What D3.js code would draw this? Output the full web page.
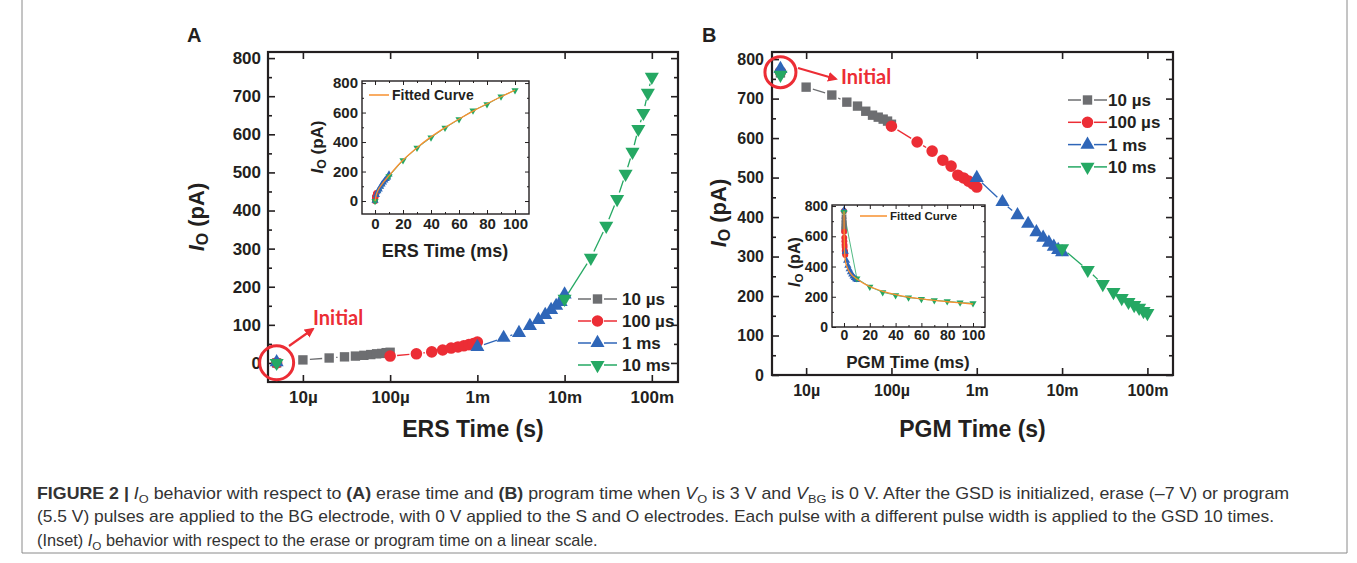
<!DOCTYPE html>
<html>
<head>
<meta charset="utf-8">
<script src="https://cdn.jsdelivr.net/npm/d3@7"></script>
<style>
  body { margin: 0; background: #fff; }
  text { font-family: "Liberation Sans", Arial, Helvetica, sans-serif; fill: #231f20; }
</style>
</head>
<body>
<svg id="fig" width="1357" height="563"></svg>
<script>
// pulse widths (s), one array per series
var t10us  = [1e-5, 2e-5, 3e-5, 4e-5, 5e-5, 6e-5, 7e-5, 8e-5, 9e-5, 1e-4];
var t100us = [1e-4, 2e-4, 3e-4, 4e-4, 5e-4, 6e-4, 7e-4, 8e-4, 9e-4, 1e-3];
var t1ms   = [1e-3, 2e-3, 3e-3, 4e-3, 5e-3, 6e-3, 7e-3, 8e-3, 9e-3, 1e-2];
var t10ms  = [1e-2, 2e-2, 3e-2, 4e-2, 5e-2, 6e-2, 7e-2, 8e-2, 9e-2, 1e-1];
var tInitial = 5e-6;
var seriesNames = ["10 \u00b5s", "100 \u00b5s", "1 ms", "10 ms"];

// (A) erase, I_O in pA
var ers10us  = [8, 13, 16, 18, 20, 22, 24, 25, 27, 28];
var ers100us = [18, 24, 29, 34, 39, 42, 45, 48, 51, 55];
var ers1ms   = [42, 66, 79, 97, 113, 126, 139, 150, 160, 180];
var ers10ms  = [168, 276, 360, 430, 496, 554, 614, 656, 709, 751];
var ersInitial = [0, 0, 2, 0];

// (B) program, I_O in pA
var pgm10us  = [729, 709, 691, 681, 668, 658, 653, 648, 643, 635];
var pgm100us = [630, 590, 567, 544, 529, 506, 499, 491, 484, 476];
var pgm1ms   = [499, 438, 405, 383, 362, 348, 335, 325, 317, 311];
var pgm10ms  = [321, 266, 230, 210, 195, 185, 177, 170, 162, 157];
var pgmInitial = [765, 768, 775, 760];

// fitted curves of the insets (ms, pA)
var ersFitT = [0, 1, 2, 5, 10, 20, 30, 40, 50, 60, 70, 80, 90, 100];
var ersFitI = [0, 45, 70, 115, 172, 278, 362, 435, 498, 556, 610, 660, 707, 752];
var pgmFitT = [0, 0.1, 0.3, 0.6, 1, 2, 5, 10, 20, 30, 40, 50, 60, 70, 80, 90, 100];
var pgmFitI = [765, 640, 540, 470, 440, 405, 355, 318, 268, 236, 214, 198, 186, 176, 167, 160, 152];

var logTicks = [1e-5, 1e-4, 1e-3, 1e-2, 1e-1];
var logLabels = ["10\u00b5", "100\u00b5", "1m", "10m", "100m"];
var mainYTicks = [0, 100, 200, 300, 400, 500, 600, 700, 800];
var insetXTicks = [0, 20, 40, 60, 80, 100];
var insetYTicks = [0, 200, 400, 600, 800];

var ink = "#231f20";
var colors = ["#6d6e71", "#ec2d35", "#2f66b8", "#25a863"];
var fitColor = "#f7902f";
var shapes = [d3.symbolSquare, d3.symbolCircle, d3.symbolTriangle, d3.symbolTriangle];
var flip = [false, false, false, true];
var sizes = [88, 105, 86, 86];

var svg = d3.select("#fig");

svg.append("defs").append("marker")
    .attr("id", "arrow")
    .attr("viewBox", "0 0 10 10")
    .attr("refX", 8).attr("refY", 5)
    .attr("markerWidth", 4.5).attr("markerHeight", 4.5)
    .attr("orient", "auto")
  .append("path")
    .attr("d", "M0,0 L10,5 L0,10 z")
    .attr("fill", "#ec2d35");

function marker(g, x, y, i, k) {
    g.append("path")
        .attr("d", d3.symbol().type(shapes[i]).size(sizes[i] * k)())
        .attr("transform", "translate(" + x + "," + y + ")" + (flip[i] ? " rotate(180)" : ""))
        .attr("fill", colors[i]);
}

// line between markers, cut back around each symbol
function gapLine(g, pts, gap, color, w) {
    for (var k = 1; k < pts.length; k++) {
        var a = pts[k - 1], b = pts[k];
        var dx = b[0] - a[0], dy = b[1] - a[1], L = Math.hypot(dx, dy);
        if (L <= 2 * gap + 1) continue;
        var ux = dx / L, uy = dy / L;
        g.append("line")
            .attr("x1", a[0] + ux * gap).attr("y1", a[1] + uy * gap)
            .attr("x2", b[0] - ux * gap).attr("y2", b[1] - uy * gap)
            .attr("stroke", color).attr("stroke-width", w);
    }
}

function axes(g, x, y, o) {
    var x0 = x.range()[0], x1 = x.range()[1], y0 = y.range()[0], y1 = y.range()[1];
    function put(axis, tx, ty, labelled) {
        var a = g.append("g").attr("transform", "translate(" + tx + "," + ty + ")").call(axis);
        a.select(".domain").remove();
        a.selectAll("line").attr("stroke", ink).attr("stroke-width", o.tickW);
        a.selectAll("text")
            .attr("font-size", o.fontSize).attr("font-weight", "bold").attr("fill", ink);
        if (!labelled) a.selectAll("text").remove();
        return a;
    }
    var fmt = o.xFormat || d3.format("d");
    put(d3.axisBottom(x).tickValues(o.xTicks).tickSize(-o.major).tickPadding(o.xPad).tickFormat(fmt), 0, y0, true);
    put(d3.axisTop(x).tickValues(o.xTicks).tickSize(-o.major), 0, y1, false);
    put(d3.axisLeft(y).tickValues(o.yTicks).tickSize(-o.major).tickPadding(o.yPad).tickFormat(d3.format("d")), x0, 0, true);
    put(d3.axisRight(y).tickValues(o.yTicks).tickSize(-o.major), x1, 0, false);
    if (o.yMinor) {
        put(d3.axisLeft(y).tickValues(o.yMinor).tickSize(-o.minor), x0, 0, false);
        put(d3.axisRight(y).tickValues(o.yMinor).tickSize(-o.minor), x1, 0, false);
    }
    if (o.xMinor) {
        put(d3.axisBottom(x).tickValues(o.xMinor).tickSize(-o.minor), 0, y0, false);
        put(d3.axisTop(x).tickValues(o.xMinor).tickSize(-o.minor), 0, y1, false);
    }
    g.append("rect")
        .attr("x", x0).attr("y", y1).attr("width", x1 - x0).attr("height", y0 - y1)
        .attr("fill", "none").attr("stroke", ink).attr("stroke-width", o.frameW);
}

function ioTitle(g, x, y, size) {
    var t = g.append("text")
        .attr("transform", "translate(" + x + "," + y + ") rotate(-90)")
        .attr("text-anchor", "middle").attr("font-size", size).attr("font-weight", "bold");
    t.append("tspan").attr("font-style", "italic").text("I");
    t.append("tspan").attr("font-size", size * 0.72).attr("dy", size * 0.2).text("O");
    t.append("tspan").attr("dy", -size * 0.2).text(" (pA)");
}

function plainText(g, x, y, size, str, anchor) {
    return g.append("text").attr("x", x).attr("y", y)
        .attr("font-size", size).attr("font-weight", "bold")
        .attr("text-anchor", anchor || "start").text(str);
}

function panel(o) {
    var g = svg.append("g");
    var x = d3.scaleLog().domain([Math.pow(10, -5.4), Math.pow(10, -0.7)]).range([o.left, o.right]);
    var y = d3.scaleLinear().domain(o.yDomain).range([o.bottom, o.top]);
    var times = [t10us, t100us, t1ms, t10ms];

    axes(g, x, y, {
        xTicks: logTicks, yTicks: mainYTicks,
        yMinor: mainYTicks.map(function(d) { return d + 50; }).filter(function(d) { return d < o.yDomain[1]; }),
        major: 7, minor: 4, tickW: 1.6, frameW: 2.2,
        fontSize: o.tickFont, xPad: o.xPad, yPad: o.yPad,
        xFormat: function(d) { return logLabels[logTicks.indexOf(d)]; }
    });

    // inset
    var ins = o.inset;
    g.append("rect").attr("x", ins.left).attr("y", ins.top)
        .attr("width", ins.right - ins.left).attr("height", ins.bottom - ins.top).attr("fill", "#fff");
    var ix = d3.scaleLinear().domain(ins.xDomain).range([ins.left, ins.right]);
    var iy = d3.scaleLinear().domain(ins.yDomain).range([ins.bottom, ins.top]);
    var ig = g.append("g");
    o.values.forEach(function(vals, i) {
        var pts = [[ix(0), iy(o.initial[i])]].concat(vals.map(function(v, j) { return [ix(times[i][j] * 1000), iy(v)]; }));
        ig.append("path").attr("d", d3.line()(pts)).attr("fill", "none")
            .attr("stroke", colors[i]).attr("stroke-width", 0.8);
    });
    o.values.forEach(function(vals, i) {
        marker(ig, ix(0), iy(o.initial[i]), i, 0.26);
        vals.forEach(function(v, j) { marker(ig, ix(times[i][j] * 1000), iy(v), i, 0.26); });
    });
    ig.append("path")
        .attr("d", d3.line().curve(d3.curveMonotoneX)(ins.fitT.map(function(t, j) { return [ix(t), iy(ins.fitI[j])]; })))
        .attr("fill", "none").attr("stroke", fitColor).attr("stroke-width", 1.3);
    axes(g, ix, iy, {
        xTicks: insetXTicks, yTicks: insetYTicks,
        xMinor: [10, 30, 50, 70, 90], yMinor: [100, 300, 500, 700],
        major: 4, minor: 2, tickW: 1, frameW: 1.4,
        fontSize: ins.tickFont, xPad: ins.xPad, yPad: ins.yPad
    });
    g.append("line").attr("x1", ins.legX).attr("x2", ins.legX + ins.legLen)
        .attr("y1", ins.legY).attr("y2", ins.legY).attr("stroke", fitColor).attr("stroke-width", 1.5);
    plainText(g, ins.legX + ins.legLen + 3, ins.legY + ins.legFont * 0.36, ins.legFont, "Fitted Curve");
    ioTitle(g, ins.yTitleX, ins.yTitleY, ins.titleFont - 1);
    plainText(g, ins.xTitleX, ins.xTitleY, ins.titleFont, ins.xTitle, "middle");

    // main series
    o.values.forEach(function(vals, i) {
        var pts = vals.map(function(v, j) { return [x(times[i][j]), y(v)]; });
        gapLine(g, pts, 7, colors[i], 1.3);
        pts.forEach(function(p) { marker(g, p[0], p[1], i, 1); });
    });
    o.initial.forEach(function(v, i) { marker(g, x(tInitial), y(v), i, 1); });

    // initial annotation
    var cy = y(d3.mean(o.initial));
    g.append("circle").attr("cx", x(tInitial)).attr("cy", cy).attr("r", o.ringR)
        .attr("fill", "none").attr("stroke", "#ec2d35").attr("stroke-width", 3);
    g.append("line").attr("x1", o.arrow[0]).attr("y1", o.arrow[1]).attr("x2", o.arrow[2]).attr("y2", o.arrow[3])
        .attr("stroke", "#ec2d35").attr("stroke-width", 2.2).attr("marker-end", "url(#arrow)");
    g.append("text").attr("x", o.initialText[0]).attr("y", o.initialText[1])
        .attr("font-size", 20).attr("font-weight", "bold")
        .style("font-family", "Lato, 'Open Sans', sans-serif").style("fill", "#ec2d35")
        .text("Initial");

    // legend
    seriesNames.forEach(function(name, i) {
        var ly = o.legY + i * o.legStep;
        var lx = o.legX;
        g.append("line").attr("x1", lx).attr("x2", lx + 13).attr("y1", ly).attr("y2", ly)
            .attr("stroke", colors[i]).attr("stroke-width", 1.5);
        g.append("line").attr("x1", lx + 26).attr("x2", lx + 39).attr("y1", ly).attr("y2", ly)
            .attr("stroke", colors[i]).attr("stroke-width", 1.5);
        marker(g, lx + 19.5, ly, i, 1);
        plainText(g, lx + o.legTextDx, ly + 6, 17, name);
    });

    ioTitle(g, o.yTitleX, o.yTitleY, 22);
    plainText(g, (o.left + o.right) / 2, 437, 23, o.xTitle, "middle");
    plainText(g, o.letterX, 42, 20, o.letter);
}

panel({
    letter: "A", letterX: 187,
    left: 268, right: 678, top: 52, bottom: 382, yDomain: [-50, 816],
    tickFont: 17, xPad: 9, yPad: 7,
    values: [ers10us, ers100us, ers1ms, ers10ms], initial: ersInitial,
    ringR: 17, arrow: [289, 346, 313, 329], initialText: [313, 325],
    legX: 578, legY: 299, legStep: 22, legTextDx: 44,
    yTitleX: 204, yTitleY: 217, xTitle: "ERS Time (s)",
    inset: {
        left: 362, right: 529, top: 81, bottom: 214,
        xDomain: [-9.3, 110], yDomain: [-88, 814],
        tickFont: 15, xPad: 4, yPad: 4, titleFont: 18,
        fitT: ersFitT, fitI: ersFitI,
        legX: 369, legY: 95, legLen: 20, legFont: 14,
        yTitleX: 323, yTitleY: 147, xTitleX: 445, xTitleY: 257, xTitle: "ERS Time (ms)"
    }
});

panel({
    letter: "B", letterX: 702,
    left: 772, right: 1173, top: 52, bottom: 375, yDomain: [0, 818],
    tickFont: 16, xPad: 10, yPad: 8,
    values: [pgm10us, pgm100us, pgm1ms, pgm10ms], initial: pgmInitial,
    ringR: 15.5, arrow: [798, 68, 836, 79], initialText: [841, 84],
    legX: 1068, legY: 100, legStep: 22.3, legTextDx: 40,
    yTitleX: 726, yTitleY: 213, xTitle: "PGM Time (s)",
    inset: {
        left: 832, right: 985, top: 205, bottom: 327,
        xDomain: [-9.3, 109.3], yDomain: [0, 807],
        tickFont: 14, xPad: 3, yPad: 4, titleFont: 17,
        fitT: pgmFitT, fitI: pgmFitI,
        legX: 860, legY: 216, legLen: 27, legFont: 11.5,
        yTitleX: 800, yTitleY: 262, xTitleX: 908, xTitleY: 368, xTitle: "PGM Time (ms)"
    }
});

// caption and figure box
svg.append("path").attr("d", "M22,0 V553 H1347 V0")
    .attr("fill", "none").attr("stroke", "#8a8a8a").attr("stroke-width", 1);

var capLines = [
    [["FIGURE 2 | ", "b"], ["I", "i"], ["O", "s"], [" behavior with respect to "], ["(A)", "b"], [" erase time and "],
     ["(B)", "b"], [" program time when "], ["V", "i"], ["O", "s"], [" is 3 V and "], ["V", "i"], ["BG", "s"],
     [" is 0 V. After the GSD is initialized, erase (\u20137 V) or program"]],
    [["(5.5 V) pulses are applied to the BG electrode, with 0 V applied to the S and O electrodes. Each pulse with a different pulse width is applied to the GSD 10 times."]],
    [["(Inset) "], ["I", "i"], ["O", "s"], [" behavior with respect to the erase or program time on a linear scale."]]
];
var capWidths = [1253, 1238, 561];
var capY = [499, 522, 546];

capLines.forEach(function(parts, li) {
    var g = svg.append("g");
    var t = g.append("text").attr("font-size", 16).style("fill", "#333");
    var shifted = false;
    parts.forEach(function(p) {
        var s = t.append("tspan").text(p[0]);
        if (p[1] === "b") s.attr("font-weight", "bold");
        if (p[1] === "i") s.attr("font-style", "italic");
        if (p[1] === "s") { s.attr("font-size", 11.5).attr("dy", 4); shifted = true; }
        else if (shifted) { s.attr("dy", -4); shifted = false; }
    });
    var w = t.node().getComputedTextLength();
    g.attr("transform", "translate(37," + capY[li] + ") scale(" + (capWidths[li] / w) + ",1)");
});
</script>
</body>
</html>
